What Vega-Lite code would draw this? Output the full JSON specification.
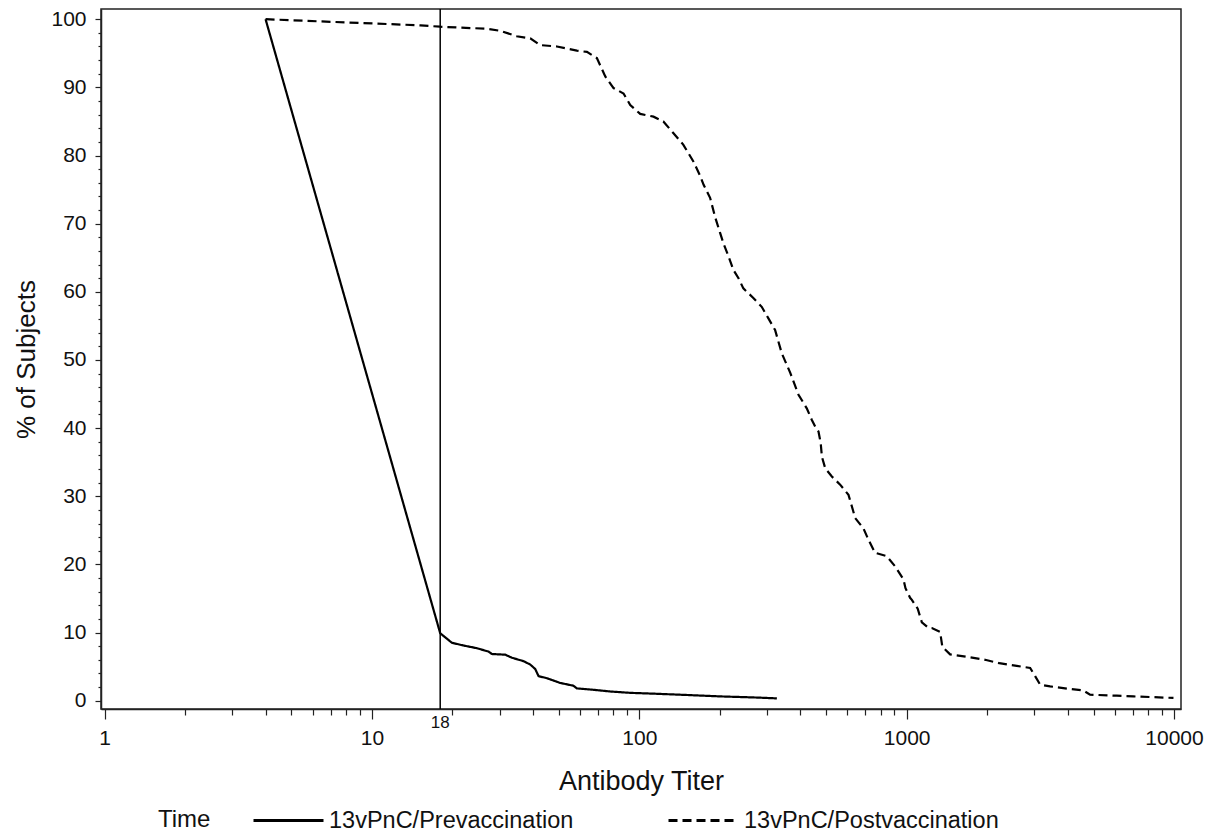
{
  "$schema": "https://vega.github.io/schema/vega-lite/v6.json",
  "width": 1080,
  "height": 700,
  "autosize": {"type": "none"},
  "padding": {"left": 101, "top": 9, "right": 36, "bottom": 126},
  "background": "white",
  "config": {
    "font": "Liberation Sans",
    "view": {"stroke": "#222222", "strokeWidth": 1.5},
    "axis": {"grid": false, "labelOverlap": false, "labelFlush": false, "domainColor": "#222222", "domainWidth": 1.5, "tickColor": "#222222", "tickWidth": 1.2, "labelColor": "#111111", "titleColor": "#111111", "titleFontWeight": "normal", "labelFont": "Liberation Sans", "titleFont": "Liberation Sans"}
  },
  "datasets": {
    "curves": [
      {"titer": 4, "pct": 100, "time": "13vPnC/Prevaccination"},
      {"titer": 18, "pct": 9.9, "time": "13vPnC/Prevaccination"},
      {"titer": 19.9, "pct": 8.5, "time": "13vPnC/Prevaccination"},
      {"titer": 22, "pct": 8.1, "time": "13vPnC/Prevaccination"},
      {"titer": 24.7, "pct": 7.7, "time": "13vPnC/Prevaccination"},
      {"titer": 27.3, "pct": 7.2, "time": "13vPnC/Prevaccination"},
      {"titer": 28.1, "pct": 6.85, "time": "13vPnC/Prevaccination"},
      {"titer": 31.5, "pct": 6.75, "time": "13vPnC/Prevaccination"},
      {"titer": 33.4, "pct": 6.3, "time": "13vPnC/Prevaccination"},
      {"titer": 36.9, "pct": 5.8, "time": "13vPnC/Prevaccination"},
      {"titer": 39.1, "pct": 5.3, "time": "13vPnC/Prevaccination"},
      {"titer": 40.8, "pct": 4.65, "time": "13vPnC/Prevaccination"},
      {"titer": 42, "pct": 3.6, "time": "13vPnC/Prevaccination"},
      {"titer": 45.1, "pct": 3.3, "time": "13vPnC/Prevaccination"},
      {"titer": 50.6, "pct": 2.6, "time": "13vPnC/Prevaccination"},
      {"titer": 56.7, "pct": 2.2, "time": "13vPnC/Prevaccination"},
      {"titer": 58.4, "pct": 1.8, "time": "13vPnC/Prevaccination"},
      {"titer": 67.4, "pct": 1.6, "time": "13vPnC/Prevaccination"},
      {"titer": 77.8, "pct": 1.35, "time": "13vPnC/Prevaccination"},
      {"titer": 92.5, "pct": 1.15, "time": "13vPnC/Prevaccination"},
      {"titer": 113, "pct": 1.03, "time": "13vPnC/Prevaccination"},
      {"titer": 150, "pct": 0.84, "time": "13vPnC/Prevaccination"},
      {"titer": 200, "pct": 0.63, "time": "13vPnC/Prevaccination"},
      {"titer": 267, "pct": 0.48, "time": "13vPnC/Prevaccination"},
      {"titer": 327, "pct": 0.34, "time": "13vPnC/Prevaccination"},
      {"titer": 4, "pct": 100, "time": "13vPnC/Postvaccination"},
      {"titer": 15.2, "pct": 99.1, "time": "13vPnC/Postvaccination"},
      {"titer": 18, "pct": 98.9, "time": "13vPnC/Postvaccination"},
      {"titer": 26.9, "pct": 98.6, "time": "13vPnC/Postvaccination"},
      {"titer": 30.2, "pct": 98.3, "time": "13vPnC/Postvaccination"},
      {"titer": 34.8, "pct": 97.5, "time": "13vPnC/Postvaccination"},
      {"titer": 39.1, "pct": 97.2, "time": "13vPnC/Postvaccination"},
      {"titer": 42.6, "pct": 96.2, "time": "13vPnC/Postvaccination"},
      {"titer": 49.2, "pct": 96.0, "time": "13vPnC/Postvaccination"},
      {"titer": 58.4, "pct": 95.4, "time": "13vPnC/Postvaccination"},
      {"titer": 63.7, "pct": 95.2, "time": "13vPnC/Postvaccination"},
      {"titer": 69.4, "pct": 94.3, "time": "13vPnC/Postvaccination"},
      {"titer": 74.6, "pct": 91.6, "time": "13vPnC/Postvaccination"},
      {"titer": 80.1, "pct": 89.9, "time": "13vPnC/Postvaccination"},
      {"titer": 87.3, "pct": 89.1, "time": "13vPnC/Postvaccination"},
      {"titer": 92.5, "pct": 87.4, "time": "13vPnC/Postvaccination"},
      {"titer": 100.8, "pct": 86.1, "time": "13vPnC/Postvaccination"},
      {"titer": 113, "pct": 85.7, "time": "13vPnC/Postvaccination"},
      {"titer": 123, "pct": 85.0, "time": "13vPnC/Postvaccination"},
      {"titer": 134, "pct": 83.3, "time": "13vPnC/Postvaccination"},
      {"titer": 146, "pct": 81.6, "time": "13vPnC/Postvaccination"},
      {"titer": 159.5, "pct": 79.1, "time": "13vPnC/Postvaccination"},
      {"titer": 169, "pct": 77.0, "time": "13vPnC/Postvaccination"},
      {"titer": 174, "pct": 75.7, "time": "13vPnC/Postvaccination"},
      {"titer": 184, "pct": 73.8, "time": "13vPnC/Postvaccination"},
      {"titer": 192, "pct": 71.0, "time": "13vPnC/Postvaccination"},
      {"titer": 200.7, "pct": 68.6, "time": "13vPnC/Postvaccination"},
      {"titer": 206.5, "pct": 67.1, "time": "13vPnC/Postvaccination"},
      {"titer": 215.6, "pct": 65.2, "time": "13vPnC/Postvaccination"},
      {"titer": 225, "pct": 63.2, "time": "13vPnC/Postvaccination"},
      {"titer": 235, "pct": 62.0, "time": "13vPnC/Postvaccination"},
      {"titer": 245, "pct": 60.5, "time": "13vPnC/Postvaccination"},
      {"titer": 267, "pct": 59.1, "time": "13vPnC/Postvaccination"},
      {"titer": 287, "pct": 57.8, "time": "13vPnC/Postvaccination"},
      {"titer": 304, "pct": 56.1, "time": "13vPnC/Postvaccination"},
      {"titer": 322, "pct": 54.4, "time": "13vPnC/Postvaccination"},
      {"titer": 341, "pct": 51.0, "time": "13vPnC/Postvaccination"},
      {"titer": 367, "pct": 48.1, "time": "13vPnC/Postvaccination"},
      {"titer": 394, "pct": 44.9, "time": "13vPnC/Postvaccination"},
      {"titer": 423, "pct": 42.9, "time": "13vPnC/Postvaccination"},
      {"titer": 442, "pct": 41.2, "time": "13vPnC/Postvaccination"},
      {"titer": 455, "pct": 40.2, "time": "13vPnC/Postvaccination"},
      {"titer": 468, "pct": 39.5, "time": "13vPnC/Postvaccination"},
      {"titer": 477, "pct": 37.8, "time": "13vPnC/Postvaccination"},
      {"titer": 482, "pct": 35.8, "time": "13vPnC/Postvaccination"},
      {"titer": 496, "pct": 34.1, "time": "13vPnC/Postvaccination"},
      {"titer": 525, "pct": 32.9, "time": "13vPnC/Postvaccination"},
      {"titer": 564, "pct": 31.7, "time": "13vPnC/Postvaccination"},
      {"titer": 606, "pct": 30.2, "time": "13vPnC/Postvaccination"},
      {"titer": 624, "pct": 28.5, "time": "13vPnC/Postvaccination"},
      {"titer": 642, "pct": 26.8, "time": "13vPnC/Postvaccination"},
      {"titer": 689, "pct": 25.3, "time": "13vPnC/Postvaccination"},
      {"titer": 720, "pct": 23.6, "time": "13vPnC/Postvaccination"},
      {"titer": 762, "pct": 21.7, "time": "13vPnC/Postvaccination"},
      {"titer": 843, "pct": 21.2, "time": "13vPnC/Postvaccination"},
      {"titer": 906, "pct": 19.7, "time": "13vPnC/Postvaccination"},
      {"titer": 973, "pct": 17.8, "time": "13vPnC/Postvaccination"},
      {"titer": 990, "pct": 16.5, "time": "13vPnC/Postvaccination"},
      {"titer": 1030, "pct": 15.1, "time": "13vPnC/Postvaccination"},
      {"titer": 1046, "pct": 14.8, "time": "13vPnC/Postvaccination"},
      {"titer": 1100, "pct": 13.5, "time": "13vPnC/Postvaccination"},
      {"titer": 1140, "pct": 11.5, "time": "13vPnC/Postvaccination"},
      {"titer": 1206, "pct": 10.7, "time": "13vPnC/Postvaccination"},
      {"titer": 1242, "pct": 10.65, "time": "13vPnC/Postvaccination"},
      {"titer": 1334, "pct": 10.1, "time": "13vPnC/Postvaccination"},
      {"titer": 1360, "pct": 7.9, "time": "13vPnC/Postvaccination"},
      {"titer": 1454, "pct": 6.8, "time": "13vPnC/Postvaccination"},
      {"titer": 1700, "pct": 6.4, "time": "13vPnC/Postvaccination"},
      {"titer": 1966, "pct": 6.0, "time": "13vPnC/Postvaccination"},
      {"titer": 2220, "pct": 5.5, "time": "13vPnC/Postvaccination"},
      {"titer": 2582, "pct": 5.1, "time": "13vPnC/Postvaccination"},
      {"titer": 2897, "pct": 4.8, "time": "13vPnC/Postvaccination"},
      {"titer": 3024, "pct": 3.6, "time": "13vPnC/Postvaccination"},
      {"titer": 3157, "pct": 2.35, "time": "13vPnC/Postvaccination"},
      {"titer": 3441, "pct": 2.1, "time": "13vPnC/Postvaccination"},
      {"titer": 4084, "pct": 1.72, "time": "13vPnC/Postvaccination"},
      {"titer": 4581, "pct": 1.5, "time": "13vPnC/Postvaccination"},
      {"titer": 4853, "pct": 0.88, "time": "13vPnC/Postvaccination"},
      {"titer": 6107, "pct": 0.73, "time": "13vPnC/Postvaccination"},
      {"titer": 7047, "pct": 0.63, "time": "13vPnC/Postvaccination"},
      {"titer": 9955, "pct": 0.4, "time": "13vPnC/Postvaccination"}
    ],
    "cutoff": [{"titer": 18, "label": "18"}]
  },
  "encoding": {
    "x": {
      "field": "titer",
      "type": "quantitative",
      "scale": {"type": "log", "domain": [0.9694, 10622], "nice": false},
      "axis": {
        "title": "Antibody Titer",
        "titleFontSize": 27,
        "titlePadding": 20,
        "tickCount": 100,
        "values": [1,2,3,4,5,6,7,8,9,10,20,30,40,50,60,70,80,90,100,200,300,400,500,600,700,800,900,1000,2000,3000,4000,5000,6000,7000,8000,9000,10000],
        "format": "d",
        "labelExpr": "(datum.value == 1 || datum.value == 10 || datum.value == 100 || datum.value == 1000 || datum.value == 10000) ? datum.label : ''",
        "labelFontSize": 21,
        "labelPadding": 8,
        "tickSize": {"condition": {"test": "datum.value == 1 || datum.value == 10 || datum.value == 100 || datum.value == 1000 || datum.value == 10000", "value": 10}, "value": 6}
      }
    }
  },
  "layer": [
    {
      "data": {"name": "curves"},
      "mark": {"type": "line", "strokeWidth": 2.2, "color": "black", "clip": true},
      "encoding": {
        "y": {
          "field": "pct",
          "type": "quantitative",
          "scale": {"domain": [-1.22, 101.5], "nice": false, "zero": false},
          "axis": {
            "title": "% of Subjects",
            "titleFontSize": 26,
            "titlePadding": 11,
            "tickCount": 200,
            "format": "d",
            "values": [0,2,4,6,8,10,12,14,16,18,20,22,24,26,28,30,32,34,36,38,40,42,44,46,48,50,52,54,56,58,60,62,64,66,68,70,72,74,76,78,80,82,84,86,88,90,92,94,96,98,100],
            "labelExpr": "datum.value % 10 == 0 ? datum.label : ''",
            "labelFontSize": 21,
            "labelPadding": 9,
            "tickSize": {"condition": {"test": "datum.value % 10 == 0", "value": 6}, "value": 3}
          }
        },
        "strokeDash": {
          "field": "time",
          "type": "nominal",
          "scale": {"domain": ["13vPnC/Prevaccination", "13vPnC/Postvaccination"], "range": [[1, 0], [9, 5]]},
          "legend": {
            "title": "Time",
            "orient": "none",
            "legendX": 57,
            "legendY": 775,
            "direction": "horizontal",
            "titleOrient": "left",
            "titleAnchor": "middle",
            "titleBaseline": "top",
            "titleFontSize": 24,
            "titleFontWeight": "normal",
            "titleColor": "#111111",
            "titlePadding": 41,
            "labelFontSize": 23.5,
            "labelColor": "#111111",
            "labelLimit": 400,
            "symbolType": "stroke",
            "symbolSize": 4900,
            "symbolStrokeWidth": 3,
            "symbolStrokeColor": "black",
            "labelOffset": 4,
            "columnPadding": 88
          }
        }
      }
    },
    {
      "data": {"name": "cutoff"},
      "mark": {"type": "rule", "color": "black", "strokeWidth": 1.5},
      "encoding": {}
    },
    {
      "data": {"name": "cutoff"},
      "mark": {"type": "text", "baseline": "top", "align": "center", "fontSize": 17, "dy": 6, "color": "#111111"},
      "encoding": {
        "y": {"datum": -1.22, "type": "quantitative"},
        "text": {"field": "label"}
      }
    }
  ]
}
